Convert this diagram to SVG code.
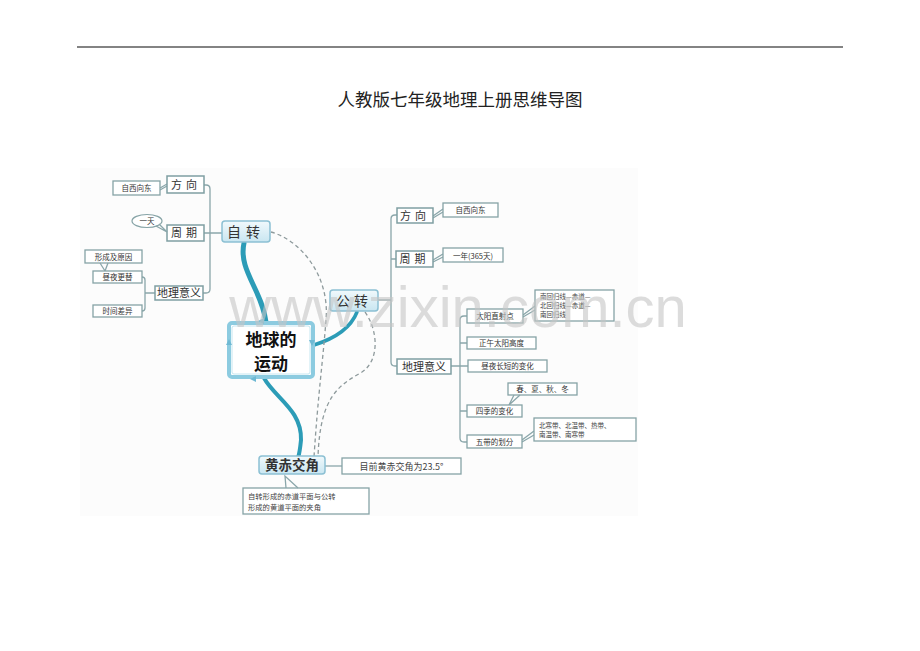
<svg xmlns="http://www.w3.org/2000/svg" width="920" height="651" viewBox="0 0 920 651">
<defs>
<linearGradient id="blueNode" x1="0" y1="0" x2="0" y2="1">
<stop offset="0" stop-color="#f1f9fc"/>
<stop offset="1" stop-color="#c9e6f1"/>
</linearGradient>
<style>
.cjk{font-family:"Noto Sans CJK SC","Noto Sans",sans-serif;}
.box{fill:#ffffff;stroke:#86a3a6;stroke-width:1.3;}
.lbl{fill:#ffffff;stroke:#7f9ea2;stroke-width:1.5;}
.main{fill:url(#blueNode);stroke:#8cc0d3;stroke-width:1.5;}
.conn{fill:none;stroke:#8aa6aa;stroke-width:1.3;}
.thick{fill:none;stroke:#2c9cb7;stroke-linecap:round;}
.dash{fill:none;stroke:#8e9a9c;stroke-width:1.3;stroke-dasharray:4 3;}
.s{font-size:7.5px;fill:#333;}
.m{font-size:11px;fill:#333;}
.b{font-size:14px;fill:#333;}
</style>
</defs>
<rect width="920" height="651" fill="#ffffff"/>
<line x1="77" y1="47" x2="843" y2="47" stroke="#5a5a5a" stroke-width="1.5"/>
<text class="cjk" x="460" y="106" text-anchor="middle" font-size="17.5" fill="#222">人教版七年级地理上册思维导图</text>
<rect x="80" y="168" width="558" height="348" fill="#fcfcfc"/>

<g id="connectors">
<path class="conn" d="M204,185 H206 Q210,185 210,189 V289 Q210,293 206,293 H203 M204,233 H222"/>
<path class="conn" d="M142,277 Q145,277 145,280 V308 Q145,311 142,311 M145,293 H155"/>
<path class="conn" d="M160,188 L167,184 M160,190 L167,186"/>
<path class="conn" d="M378,300 H391 M397,215 H395 Q391,215 391,219 V362 Q391,366 395,366 H397 M391,259 H396"/>
<path class="conn" d="M433,216 L443,209 M433,218 L443,212"/>
<path class="conn" d="M433,260 L443,254 M433,262 L443,257"/>
<path class="conn" d="M451,366 H460 M467,316 H464 Q460,316 460,320 V438 Q460,442 464,442 H467 M460,343 H467 M460,366 H468 M460,411 H467"/>
<path class="conn" d="M523,315 L535,306 M523,317 L535,310"/>
<path class="conn" d="M522,440 L534,431 M522,442 L534,435"/>
<path class="conn" d="M325,466 H342"/>
<path class="thick" stroke-width="5" d="M244,243 C238,270 262,290 266,322"/>
<path class="thick" stroke-width="4" d="M264,378 C275,398 302,410 301,440 C300,450 299,455 298,458"/>
<path class="thick" stroke-width="3.5" d="M357,312 C350,330 330,340 314,345"/>
<path class="dash" d="M271,232 C300,240 330,275 326,320 C323,360 318,395 314,457"/>
<path class="dash" d="M365,312 C378,330 380,360 362,372 C340,385 320,395 318,457"/>
</g>

<g id="n-zizhuan">
<rect class="main" x="222" y="221" width="48" height="21" rx="3"/>
<text class="cjk b" x="246" y="236.5" text-anchor="middle" letter-spacing="5">自转</text>
</g>
<g id="n-fangxiang-l">
<rect class="lbl" x="167" y="176" width="37" height="17"/>
<text class="cjk m" x="186" y="188.5" text-anchor="middle" letter-spacing="4">方向</text>
</g>
<g id="n-zixi-l">
<rect class="box" x="113" y="181" width="47" height="14"/>
<text class="cjk s" x="136.5" y="191" text-anchor="middle">自西向东</text>
</g>
<g id="n-zhouqi-l">
<rect class="lbl" x="167" y="225" width="37" height="16"/>
<text class="cjk m" x="186" y="237" text-anchor="middle" letter-spacing="4">周期</text>
</g>
<g id="n-yitian">
<ellipse cx="147" cy="221" rx="15" ry="6.5" fill="#fff" stroke="#86a3a6" stroke-width="1.2"/>
<path class="conn" d="M156,226 L167,232 L159,224"/>
<text class="cjk s" x="147" y="224" text-anchor="middle">一天</text>
</g>
<g id="n-dili-l">
<rect class="lbl" x="155" y="286" width="48" height="14"/>
<text class="cjk m" x="179" y="297" text-anchor="middle" font-size="10">地理意义</text>
</g>
<g id="n-xingcheng">
<rect class="box" x="85" y="250" width="57" height="13"/>
<path class="conn" d="M100,263 L105,271 M108,263 L105,271"/>
<text class="cjk s" x="113.5" y="259.5" text-anchor="middle">形成及原因</text>
</g>
<g id="n-zhouye">
<rect class="box" x="93" y="271" width="49" height="12"/>
<text class="cjk s" x="117.5" y="280" text-anchor="middle">昼夜更替</text>
</g>
<g id="n-shijian">
<rect class="box" x="93" y="305" width="49" height="12"/>
<text class="cjk s" x="117.5" y="314" text-anchor="middle">时间差异</text>
</g>

<g id="n-center">
<rect x="229" y="323" width="84" height="54" rx="3" fill="#ffffff" stroke="#8ccbe0" stroke-width="4"/>
<rect x="232" y="326" width="78" height="48" rx="2" fill="none" stroke="#c5e6f0" stroke-width="1"/>
<path d="M258,321 l6,-3 v6 z M309,340 l3,6 l3,-6 z M250,379 l6,-3 v6 z M226,345 l3,-6 l3,6 z" fill="#6fb9d3"/>
<text class="cjk" x="271" y="346" text-anchor="middle" font-size="17" font-weight="bold" fill="#111">地球的</text>
<text class="cjk" x="271" y="370" text-anchor="middle" font-size="17" font-weight="bold" fill="#111">运动</text>
</g>

<g id="n-gongzhuan">
<rect class="main" x="330" y="290" width="48" height="21" rx="3"/>
<text class="cjk b" x="354" y="305.5" text-anchor="middle" letter-spacing="4">公转</text>
</g>
<g id="n-fangxiang-r">
<rect class="lbl" x="397" y="208" width="36" height="15"/>
<text class="cjk m" x="415" y="219.5" text-anchor="middle" letter-spacing="4">方向</text>
</g>
<g id="n-zixi-r">
<rect class="box" x="443" y="203" width="55" height="14"/>
<text class="cjk s" x="470.5" y="213" text-anchor="middle">自西向东</text>
</g>
<g id="n-zhouqi-r">
<rect class="lbl" x="396" y="251" width="37" height="16"/>
<text class="cjk m" x="414.5" y="263" text-anchor="middle" letter-spacing="4">周期</text>
</g>
<g id="n-yinian">
<rect class="box" x="443" y="248" width="60" height="14"/>
<text class="cjk s" x="473" y="258.5" text-anchor="middle">一年(365天)</text>
</g>
<g id="n-dili-r">
<rect class="lbl" x="397" y="359" width="54" height="15"/>
<text class="cjk m" x="424" y="370.5" text-anchor="middle" font-size="10">地理意义</text>
</g>
<g id="n-taiyang">
<rect class="box" x="467" y="309" width="56" height="14"/>
<text class="cjk s" x="495" y="319" text-anchor="middle">太阳直射点</text>
</g>
<g id="n-huiguixian">
<rect class="box" x="535" y="290" width="79" height="31"/>
<text class="cjk" x="540" y="299" font-size="6.5" fill="#444">南回归线—赤道—</text>
<text class="cjk" x="540" y="308" font-size="6.5" fill="#444">北回归线—赤道—</text>
<text class="cjk" x="540" y="317" font-size="6.5" fill="#444">南回归线</text>
</g>
<g id="n-zhengwu">
<rect class="box" x="467" y="337" width="69" height="12"/>
<text class="cjk s" x="501.5" y="346" text-anchor="middle">正午太阳高度</text>
</g>
<g id="n-zhouyechang">
<rect class="box" x="468" y="360" width="79" height="12"/>
<text class="cjk s" x="507.5" y="369" text-anchor="middle">昼夜长短的变化</text>
</g>
<g id="n-chunxia">
<rect class="box" x="508" y="383" width="69" height="12"/>
<path class="conn" d="M514,395 L509,405 L520,395"/>
<text class="cjk s" x="542.5" y="392" text-anchor="middle">春、夏、秋、冬</text>
</g>
<g id="n-siji">
<rect class="box" x="467" y="405" width="55" height="12"/>
<text class="cjk s" x="494.5" y="414" text-anchor="middle">四季的变化</text>
</g>
<g id="n-wudai">
<rect class="box" x="467" y="435" width="55" height="13"/>
<text class="cjk s" x="494.5" y="444.5" text-anchor="middle">五带的划分</text>
</g>
<g id="n-handai">
<rect class="box" x="534" y="418" width="102" height="23"/>
<text class="cjk" x="539" y="427.5" font-size="6.5" fill="#444">北寒带、北温带、热带、</text>
<text class="cjk" x="539" y="436.5" font-size="6.5" fill="#444">南温带、南寒带</text>
</g>

<g id="n-huangchi">
<rect class="main" x="259" y="456" width="66" height="18" rx="3"/>
<text class="cjk" x="292" y="470" text-anchor="middle" font-size="13.5" font-weight="bold" fill="#333">黄赤交角</text>
</g>
<g id="n-muqian">
<rect class="box" x="342" y="458" width="119" height="16"/>
<text class="cjk" x="401.5" y="469.5" text-anchor="middle" font-size="9" fill="#444">目前黄赤交角为23.5°</text>
</g>
<g id="n-jiajiao">
<rect class="box" x="243" y="488" width="126" height="26"/>
<path class="conn" d="M286,488 L285,476 L298,488"/>
<text class="cjk" x="248" y="498.5" font-size="7.3" fill="#444">自转形成的赤道平面与公转</text>
<text class="cjk" x="248" y="509.5" font-size="7.3" fill="#444">形成的黄道平面的夹角</text>
</g>

<text x="458" y="327" text-anchor="middle" font-family="Liberation Sans, Arial, sans-serif" font-size="58" fill="#c4c4c4" fill-opacity="0.6">www.zixin.com.cn</text>
</svg>
